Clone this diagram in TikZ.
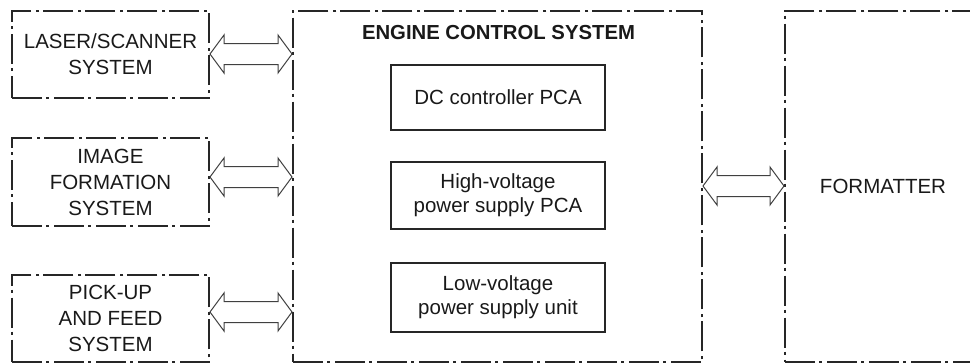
\documentclass[tikz,border=0pt]{standalone}
\usepackage{fontspec}
\setmainfont{Liberation Sans}
\usetikzlibrary{calc}
\tikzset{
  sysbox/.style={draw=black!85, line width=2pt, dash pattern=on 30pt off 4pt on 3pt off 5pt, inner sep=0pt, align=center, font=\fontsize{20.5pt}{26pt}\selectfont, text=black!90},
  pcabox/.style={draw=black!85, line width=2pt, inner sep=0pt, align=center, minimum width=214pt, font=\fontsize{20.5pt}{24pt}\selectfont, text=black!90},
  titletext/.style={inner sep=0pt, font=\fontsize{20.3pt}{24pt}\selectfont\bfseries, text=black!90},
  arrowline/.style={draw=black!75, line width=1pt, line join=miter}
}
\newcommand\dblarrow[2]{%
  \draw[arrowline] let \p1=(#1), \p2=(#2) in
    (\x1,\y1) -- (\x1+14pt,\y1+19pt) -- (\x1+14pt,\y1+10.5pt) -- (\x2-14pt,\y1+10.5pt)
    -- (\x2-14pt,\y1+19pt) -- (\x2,\y1) -- (\x2-14pt,\y1-19pt) -- (\x2-14pt,\y1-10.5pt)
    -- (\x1+14pt,\y1-10.5pt) -- (\x1+14pt,\y1-19pt) -- cycle;}
\begin{document}
\begin{tikzpicture}[x=1pt,y=-1pt]
\useasboundingbox (0,0) rectangle (970,362);
\clip (0,0) rectangle (970,362);
% left systems
\node[sysbox, minimum width=197pt, minimum height=87pt] (laser) at (110.5,54.5) {LASER/SCANNER\\SYSTEM};
\node[sysbox, minimum width=197pt, minimum height=88pt] (img) at (110.5,182) {IMAGE\\FORMATION\\SYSTEM};
\node[sysbox, minimum width=197pt, minimum height=87.3pt] (pick) at (110.5,318.6) {PICK-UP\\AND FEED\\SYSTEM};
% engine control system
\node[sysbox, minimum width=409pt, minimum height=351.3pt] (ecs) at (497.5,186.6) {};
\node[titletext] (title) at (498.5,33) {ENGINE CONTROL SYSTEM};
\node[pcabox, minimum height=65pt] (dc) at (498,97.5) {DC controller PCA};
\node[pcabox, minimum height=67pt] (hv) at (498,195.5) {High-voltage\\power supply PCA};
\node[pcabox, minimum height=69pt] (lv) at (498,297.5) {Low-voltage\\power supply unit};
% formatter
\node[sysbox, minimum width=196pt, minimum height=351.3pt] (fmt) at (883,186.6) {FORMATTER};
% connector end points
\coordinate (a1l) at (laser.east |- 0,54);
\coordinate (a1r) at (ecs.west |- 0,54);
\coordinate (a2l) at (img.east |- 0,177);
\coordinate (a2r) at (ecs.west |- 0,177);
\coordinate (a3l) at (pick.east |- 0,312);
\coordinate (a3r) at (ecs.west |- 0,312);
\coordinate (a4l) at (ecs.east |- 0,186);
\coordinate (a4r) at (fmt.west |- 0,186);
\dblarrow{a1l}{a1r}
\dblarrow{a2l}{a2r}
\dblarrow{a3l}{a3r}
\dblarrow{a4l}{a4r}
\end{tikzpicture}
\end{document}
